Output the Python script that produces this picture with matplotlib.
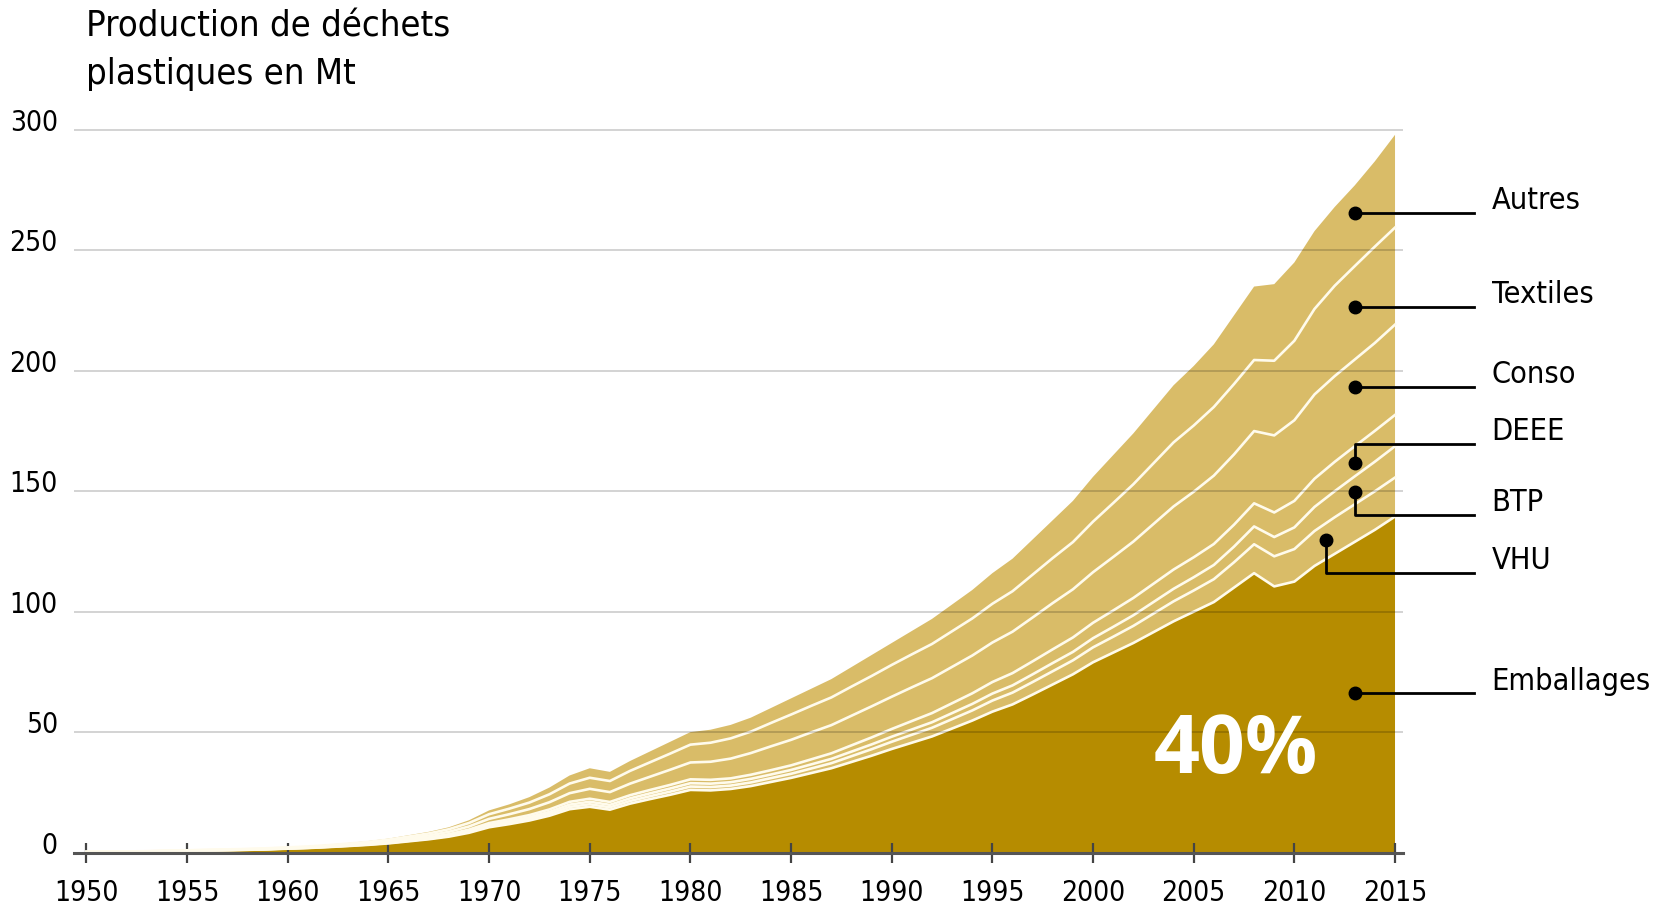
import os
import matplotlib.pyplot as plt
import matplotlib.transforms as mtransforms
from matplotlib import font_manager as fm
from matplotlib.textpath import TextPath
import numpy as np

# plastic waste generation by sector (Mt), one value per year 1950..2015
YEARS = list(range(1950, 2016))
EMBALLAGES = [0.21, 0.28, 0.35, 0.42, 0.56, 0.70, 0.84, 0.98, 1.12, 1.33,
              1.61, 1.87, 2.26, 2.70, 3.19, 3.80, 4.65, 5.50, 6.60, 8.20,
              10.5, 11.8, 13.3, 15.3, 18.0, 19.0, 17.8, 20.3, 22.2, 24.0,
              26.0, 25.8, 26.4, 27.6, 29.3, 31.0, 33.0, 35.0, 37.6, 40.2,
              43.0, 45.6, 48.2, 51.5, 54.8, 58.5, 61.5, 65.6, 69.8, 74.0,
              79.0, 83.0, 87.0, 91.5, 96.0, 100.0, 104.0, 110.0, 116.0, 110.5,
              112.5, 119.0, 124.0, 129.0, 134.0, 139.5]
VHU = [0.01, 0.01, 0.015, 0.02, 0.02, 0.03, 0.04, 0.04, 0.05, 0.06,
       0.07, 0.08, 0.10, 0.12, 0.14, 0.17, 0.21, 0.25, 0.31, 0.40,
       0.52, 0.6, 0.7, 0.8, 0.95, 1.05, 1.0, 1.1, 1.2, 1.3,
       1.4, 1.4, 1.4, 1.5, 1.6, 1.7, 1.9, 2.1, 2.4, 2.7,
       3.0, 3.3, 3.6, 3.9, 4.2, 4.6, 4.9, 5.2, 5.5, 5.8,
       6.2, 6.6, 7.1, 7.7, 8.3, 8.8, 9.5, 10.5, 12.0, 12.5,
       13.5, 14.5, 15.2, 15.6, 16.0, 16.2]
BTP = [0.01, 0.01, 0.015, 0.02, 0.02, 0.03, 0.04, 0.04, 0.05, 0.06,
       0.07, 0.08, 0.10, 0.12, 0.14, 0.17, 0.21, 0.25, 0.31, 0.40,
       0.52, 0.6, 0.7, 0.8, 0.95, 1.05, 1.0, 1.1, 1.2, 1.3,
       1.4, 1.4, 1.4, 1.5, 1.5, 1.6, 1.7, 1.8, 1.9, 2.0,
       2.1, 2.2, 2.3, 2.5, 2.7, 2.9, 3.0, 3.2, 3.4, 3.5,
       3.8, 4.1, 4.4, 4.8, 5.2, 5.5, 5.9, 6.5, 7.4, 8.0,
       9.0, 10.0, 10.8, 11.6, 12.3, 13.0]
DEEE = [0.01, 0.01, 0.015, 0.02, 0.02, 0.03, 0.04, 0.04, 0.05, 0.06,
        0.07, 0.09, 0.11, 0.14, 0.17, 0.21, 0.27, 0.32, 0.40, 0.52,
        0.70, 0.8, 0.85, 1.0, 1.15, 1.25, 1.2, 1.3, 1.4, 1.5,
        1.6, 1.6, 1.6, 1.7, 1.8, 1.9, 2.1, 2.3, 2.6, 2.9,
        3.2, 3.5, 3.8, 4.1, 4.4, 4.8, 5.1, 5.4, 5.7, 6.0,
        6.4, 6.8, 7.2, 7.6, 8.0, 8.3, 8.7, 9.1, 9.6, 10.2,
        11.0, 11.7, 12.2, 12.5, 12.8, 13.0]
CONSO = [0.02, 0.03, 0.035, 0.04, 0.06, 0.07, 0.08, 0.10, 0.11, 0.13,
         0.16, 0.19, 0.24, 0.30, 0.38, 0.48, 0.62, 0.77, 0.98, 1.30,
         1.75, 2.1, 2.5, 3.0, 3.6, 4.1, 4.1, 4.8, 5.5, 6.3,
         7.0, 7.5, 8.2, 9.0, 9.9, 10.6, 11.2, 11.7, 12.3, 12.9,
         13.4, 14.0, 14.5, 15.1, 15.7, 16.4, 17.2, 18.2, 19.2, 20.0,
         21.0, 22.2, 23.4, 24.8, 26.2, 27.2, 28.4, 29.2, 30.0, 32.0,
         33.5, 35.0, 35.6, 36.0, 36.5, 37.5]
TEXTILES = [0.02, 0.03, 0.035, 0.04, 0.06, 0.07, 0.08, 0.10, 0.11, 0.13,
            0.16, 0.20, 0.26, 0.33, 0.41, 0.52, 0.68, 0.84, 1.07, 1.45,
            1.93, 2.3, 2.7, 3.3, 4.0, 4.6, 4.6, 5.3, 6.0, 6.7,
            7.4, 7.9, 8.4, 8.9, 9.7, 10.5, 11.0, 11.5, 12.1, 12.6,
            13.2, 13.7, 14.2, 14.8, 15.4, 16.1, 16.8, 17.8, 18.7, 19.6,
            21.0, 22.4, 23.8, 25.2, 26.6, 27.5, 28.5, 29.2, 29.5, 31.0,
            33.0, 35.5, 37.5, 38.8, 40.0, 40.3]
AUTRES = [0.02, 0.03, 0.035, 0.04, 0.06, 0.07, 0.08, 0.10, 0.11, 0.13,
          0.16, 0.19, 0.23, 0.29, 0.37, 0.45, 0.56, 0.67, 0.83, 1.13,
          1.58, 1.8, 2.25, 2.8, 3.35, 3.95, 3.8, 4.1, 4.5, 4.9,
          5.2, 5.4, 5.6, 5.8, 6.2, 6.7, 7.1, 7.6, 8.1, 8.7,
          9.1, 9.7, 10.4, 11.1, 11.8, 12.7, 13.5, 14.6, 15.7, 17.1,
          18.6, 19.9, 21.1, 22.4, 23.7, 24.7, 26.0, 28.5, 30.5, 31.8,
          32.5, 32.3, 32.7, 33.5, 35.4, 38.5]

X_TICKS = list(range(1950, 2016, 5))
Y_TICKS = [0, 50, 100, 150, 200, 250, 300]

DARK = '#B68C00'
LIGHT = '#D9BC68'


def find_narrow_font():
    """ look for a condensed / narrow regular font file, else None """
    prefer = ['LiberationSansNarrow-Regular', 'DejaVuSansCondensed.',
              'RobotoCondensed-Regular', 'OpenSans_Condensed-Regular',
              'OpenSansCondensed', 'NotoSans-Condensed.', 'NotoSansCondensed-Regular']
    files = [f.fname for f in fm.fontManager.ttflist]
    for p in prefer:
        for fn in files:
            if os.path.basename(fn).startswith(p):
                return fn
    for fn in files:
        b = os.path.basename(fn).lower()
        if ('narrow' in b or 'condensed' in b) and not any(
                k in b for k in ['bold', 'italic', 'oblique', 'light', 'black', 'thin', 'medium', 'semi']):
            return fn
    return None


path = find_narrow_font()
if path is not None:
    FP = fm.FontProperties(fname=path)
else:
    FP = fm.FontProperties(family='Roboto')


def fit_size(s, nominal, target_px):
    """ font size giving the wanted pixel width, never above nominal """
    w = TextPath((0, 0), s, size=nominal, prop=FP).get_extents().width * 100 / 72
    return min(nominal, nominal * target_px / w)


def fprop(size):
    p = FP.copy()
    p.set_size(size)
    return p


fig = plt.figure(figsize=(16.53, 9.06), dpi=100)
ax = fig.add_axes([0.045, 0.059, 0.8038, 0.8108])

layers = [EMBALLAGES, VHU, BTP, DEEE, CONSO, TEXTILES, AUTRES]
ax.stackplot(YEARS, layers, colors=[DARK] + [LIGHT] * 6, linewidth=0, zorder=1)

# white separators between the sectors
tops = np.cumsum(np.array(layers), axis=0)
for row in tops[:-1]:
    ax.plot(YEARS, row, color='#FFFBEC', lw=1.9, zorder=2)

# gridlines drawn over the areas
for v in Y_TICKS[1:]:
    ax.axhline(v, color='black', alpha=0.2, lw=1.2, zorder=3)

ax.set_xlim(1949.4, 2015.4)
ax.set_ylim(0, 305)
for s in ['top', 'right', 'left']:
    ax.spines[s].set_visible(False)
ax.spines['bottom'].set_color('#555555')
ax.spines['bottom'].set_linewidth(2.2)
ax.spines['bottom'].set_zorder(4)

tick_size = fit_size('1950', 24, 60)
ax.set_xticks(X_TICKS)
ax.tick_params(axis='x', direction='inout', length=14, width=1.6,
               color='#444444', pad=12)
ax.set_yticks(Y_TICKS)
ax.tick_params(axis='y', length=0, pad=12)
shift = mtransforms.ScaledTranslation(0, 10 / 100, fig.dpi_scale_trans)
for lab in ax.get_yticklabels():
    lab.set_fontproperties(fprop(tick_size))
    lab.set_transform(lab.get_transform() + shift)
for lab in ax.get_xticklabels():
    lab.set_fontproperties(fprop(tick_size))

title_size = fit_size('Production de déchets', 32, 360)
fig.text(0.0523, 0.99, 'Production de déchets\nplastiques en Mt',
         ha='left', va='top', fontproperties=fprop(title_size), linespacing=1.5)

# leader lines to the sector names
x_dot = 2013.0
x_end = 2018.9
x_txt = 2019.8
label_size = fit_size('Emballages', 26, 155)


def leader(name, dot_x, dot_y, line_y):
    ax.plot([dot_x], [dot_y], 'o', color='black', ms=9, zorder=6, clip_on=False)
    ax.plot([dot_x, dot_x, x_end], [dot_y, line_y, line_y], color='black',
            lw=2.0, zorder=6, clip_on=False)
    ax.text(x_txt, line_y + 5, name, fontproperties=fprop(label_size),
            ha='left', va='center', clip_on=False)


leader('Autres', x_dot, 265.6, 265.6)
leader('Textiles', x_dot, 226.6, 226.6)
leader('Conso', x_dot, 193.4, 193.4)
leader('DEEE', x_dot, 161.8, 169.7)
leader('BTP', x_dot, 149.9, 140.2)
leader('VHU', 2011.57, 129.8, 116.1)
leader('Emballages', x_dot, 66.2, 66.2)

ax.text(2007.1, 41.7, '40%', color='white', fontsize=58, fontweight='bold',
        family=['Open Sans', 'DejaVu Sans'], ha='center', va='center', zorder=7)

fig.savefig('out.png', dpi=100)
